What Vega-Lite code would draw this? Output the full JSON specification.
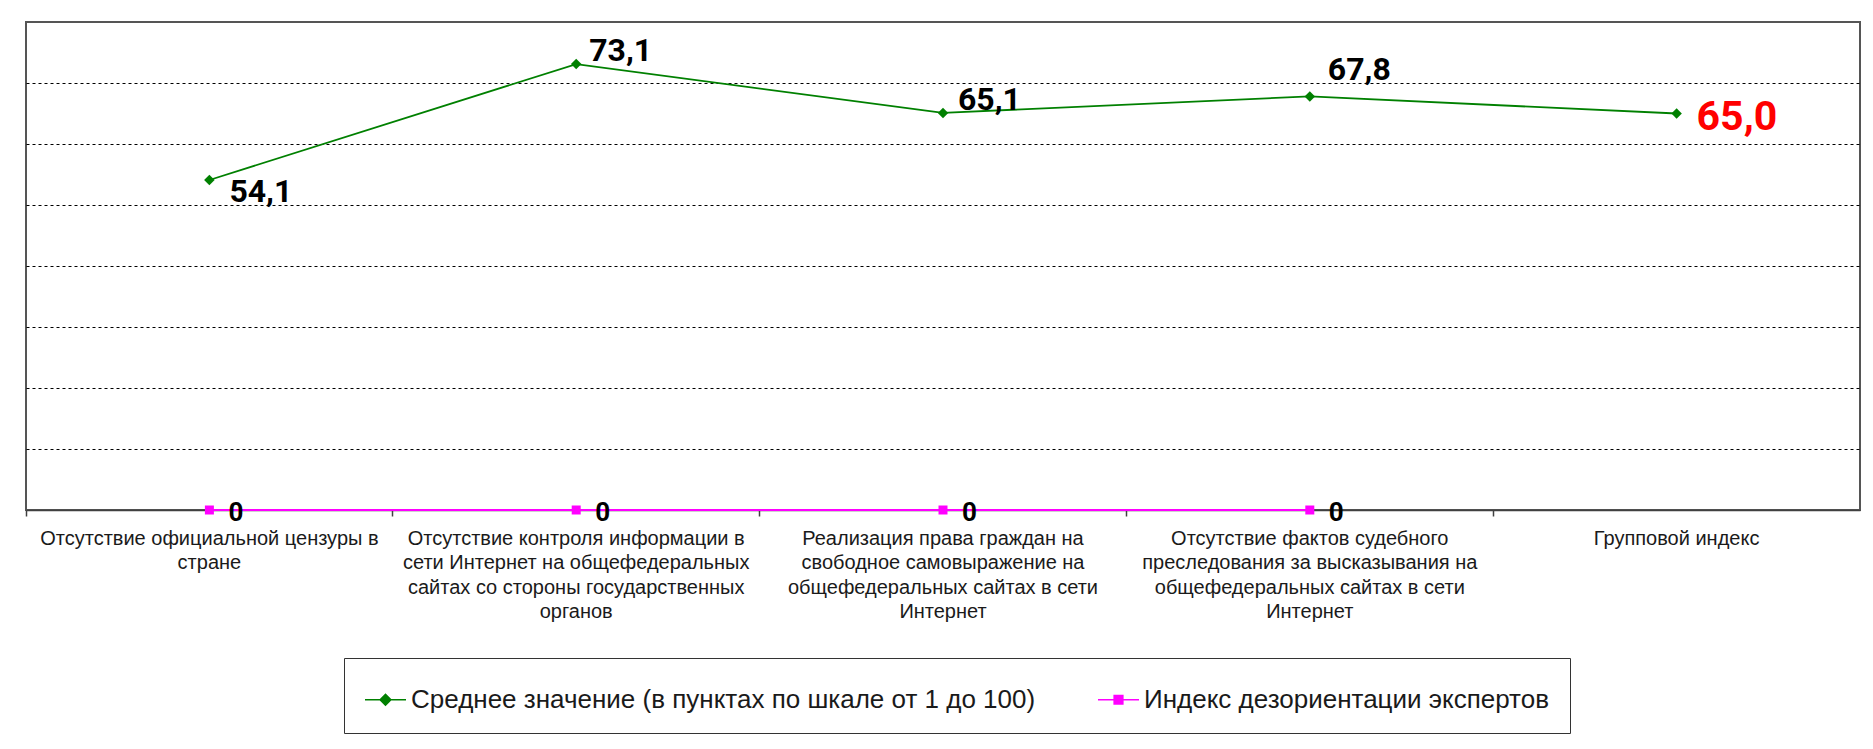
{
  "$schema": "https://vega.github.io/schema/vega-lite/v6.json",
  "autosize": {"type": "none"},
  "padding": {"left": 26, "top": 22, "right": 13, "bottom": 239},
  "width": 1834,
  "height": 488,
  "background": "white",
  "config": {
    "view": {"stroke": "#555555", "strokeWidth": 2},
    "locale": {"number": {"decimal": ",", "thousands": " ", "grouping": [3], "currency": ["", " руб."]}}
  },
  "data": {
    "values": [
      {"item": 1, "category": "Отсутствие официальной цензуры в|стране", "series": "Среднее значение (в пунктах по шкале от 1 до 100)", "value": 54.1},
      {"item": 2, "category": "Отсутствие контроля информации в|сети Интернет на общефедеральных|сайтах со стороны государственных|органов", "series": "Среднее значение (в пунктах по шкале от 1 до 100)", "value": 73.1},
      {"item": 3, "category": "Реализация права граждан на|свободное самовыражение на|общефедеральных сайтах в сети|Интернет", "series": "Среднее значение (в пунктах по шкале от 1 до 100)", "value": 65.1},
      {"item": 4, "category": "Отсутствие фактов судебного|преследования за высказывания на|общефедеральных сайтах в сети|Интернет", "series": "Среднее значение (в пунктах по шкале от 1 до 100)", "value": 67.8},
      {"item": 5, "category": "Групповой индекс", "series": "Среднее значение (в пунктах по шкале от 1 до 100)", "value": 65.0},
      {"item": 1, "category": "Отсутствие официальной цензуры в|стране", "series": "Индекс дезориентации экспертов", "value": 0},
      {"item": 2, "category": "Отсутствие контроля информации в|сети Интернет на общефедеральных|сайтах со стороны государственных|органов", "series": "Индекс дезориентации экспертов", "value": 0},
      {"item": 3, "category": "Реализация права граждан на|свободное самовыражение на|общефедеральных сайтах в сети|Интернет", "series": "Индекс дезориентации экспертов", "value": 0},
      {"item": 4, "category": "Отсутствие фактов судебного|преследования за высказывания на|общефедеральных сайтах в сети|Интернет", "series": "Индекс дезориентации экспертов", "value": 0}
    ]
  },
  "encoding": {
    "x": {
      "field": "category",
      "type": "nominal",
      "sort": {"field": "item"},
      "bandPosition": 0.5,
      "scale": {"type": "band", "paddingInner": 0, "paddingOuter": 0},
      "axis": {
        "title": null,
        "bandPosition": 0,
        "labelExpr": "split(datum.label, '|')",
        "labelAngle": 0,
        "labelAlign": "center",
        "labelBaseline": "top",
        "labelFont": "Liberation Sans Narrow, Liberation Sans",
        "labelFontSize": 20,
        "labelColor": "#1a1a1a",
        "labelLineHeight": 24.5,
        "labelPadding": 12,
        "labelLimit": 600,
        "labelOverlap": false,
        "labelBound": false,
        "labelFlush": false,
        "tickColor": "#404040",
        "tickSize": 6,
        "tickWidth": 1.5,
        "domainColor": "#404040",
        "domainWidth": 1.5,
        "grid": false
      }
    },
    "y": {
      "field": "value",
      "type": "quantitative",
      "scale": {"domain": [0, 80], "nice": false},
      "axis": {
        "title": null,
        "values": [10, 20, 30, 40, 50, 60, 70],
        "labels": false,
        "ticks": false,
        "domain": false,
        "grid": true,
        "gridColor": "#000000",
        "gridDash": [3, 3],
        "gridWidth": 1,
        "gridOpacity": 1
      }
    }
  },
  "layer": [
    {
      "mark": {"type": "line", "strokeWidth": 1.8},
      "encoding": {
        "color": {
          "field": "series",
          "type": "nominal",
          "scale": {"domain": ["Среднее значение (в пунктах по шкале от 1 до 100)", "Индекс дезориентации экспертов"], "range": ["#008000", "#FF00FF"]},
          "legend": {
            "title": null,
            "orient": "none",
            "legendX": 318,
            "legendY": 636,
            "direction": "horizontal",
            "padding": 20,
            "strokeColor": "#333333",
            "symbolSize": 1681,
            "symbolStrokeWidth": 1.6,
            "labelFont": "Liberation Sans Narrow, Liberation Sans",
            "labelFontSize": 26,
            "labelColor": "#1a1a1a",
            "labelOffset": 4,
            "labelLimit": 1000,
            "columnPadding": 58,
            "encode": {
              "symbols": {
                "update": {
                  "shape": {"signal": "datum.value === 'Индекс дезориентации экспертов' ? 'M-1,0L1,0M-0.21,-0.21L0.21,-0.21L0.21,0.21L-0.21,0.21Z' : 'M-1,0L1,0M-0.26,0L0,-0.26L0.26,0L0,0.26Z'"},
                  "fill": {"signal": "datum.value === 'Индекс дезориентации экспертов' ? '#FF00FF' : '#008000'"},
                  "stroke": {"signal": "datum.value === 'Индекс дезориентации экспертов' ? '#FF00FF' : '#008000'"},
                  "strokeWidth": {"value": 1.6},
                  "opacity": {"value": 1},
                  "fillOpacity": {"value": 1}
                }
              }
            }
          }
        }
      }
    },
    {
      "transform": [{"filter": "datum.series === 'Среднее значение (в пунктах по шкале от 1 до 100)'"}],
      "mark": {"type": "point", "filled": true, "opacity": 1, "size": 110, "shape": "diamond"},
      "encoding": {"color": {"field": "series", "type": "nominal"}}
    },
    {
      "transform": [{"filter": "datum.series === 'Индекс дезориентации экспертов'"}],
      "mark": {"type": "point", "filled": true, "opacity": 1, "size": 81, "shape": "square"},
      "encoding": {"color": {"field": "series", "type": "nominal"}}
    },
    {
      "transform": [{"filter": "datum.item === 1 && datum.value > 0"}],
      "mark": {"type": "text", "font": "Roboto", "fontWeight": "bold", "fontSize": 32, "align": "left", "baseline": "alphabetic", "dx": 20, "dy": 22, "color": "#000000"},
      "encoding": {"text": {"field": "value", "type": "quantitative", "format": ".1f"}}
    },
    {
      "transform": [{"filter": "datum.item === 2 && datum.value > 0"}],
      "mark": {"type": "text", "font": "Roboto", "fontWeight": "bold", "fontSize": 32, "align": "left", "baseline": "alphabetic", "dx": 13, "dy": -3, "color": "#000000"},
      "encoding": {"text": {"field": "value", "type": "quantitative", "format": ".1f"}}
    },
    {
      "transform": [{"filter": "datum.item === 3 && datum.value > 0"}],
      "mark": {"type": "text", "font": "Roboto", "fontWeight": "bold", "fontSize": 32, "align": "left", "baseline": "alphabetic", "dx": 15, "dy": -3, "color": "#000000"},
      "encoding": {"text": {"field": "value", "type": "quantitative", "format": ".1f"}}
    },
    {
      "transform": [{"filter": "datum.item === 4 && datum.value > 0"}],
      "mark": {"type": "text", "font": "Roboto", "fontWeight": "bold", "fontSize": 32, "align": "left", "baseline": "alphabetic", "dx": 18, "dy": -16, "color": "#000000"},
      "encoding": {"text": {"field": "value", "type": "quantitative", "format": ".1f"}}
    },
    {
      "transform": [{"filter": "datum.item === 5"}],
      "mark": {"type": "text", "font": "Roboto", "fontWeight": "bold", "fontSize": 41, "align": "left", "baseline": "alphabetic", "dx": 20, "dy": 16, "color": "#FF0000"},
      "encoding": {"text": {"field": "value", "type": "quantitative", "format": ".1f"}}
    },
    {
      "transform": [{"filter": "datum.series === 'Индекс дезориентации экспертов'"}],
      "mark": {"type": "text", "font": "Roboto", "fontWeight": "bold", "fontSize": 26, "align": "left", "baseline": "middle", "dx": 19, "dy": 3, "color": "#000000"},
      "encoding": {"text": {"field": "value", "type": "quantitative", "format": ".0f"}}
    }
  ]
}
